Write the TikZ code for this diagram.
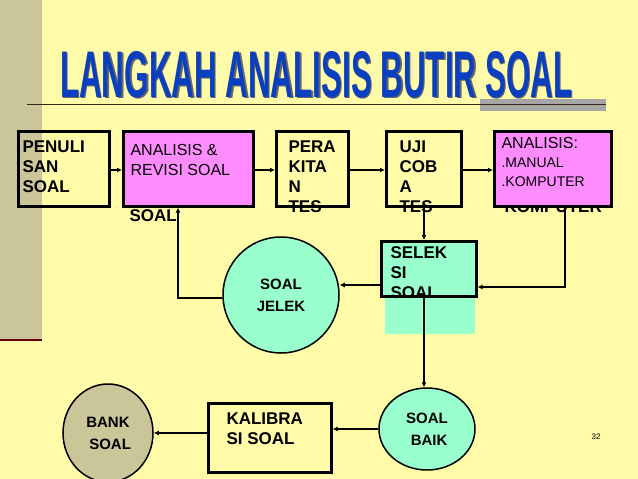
\documentclass[tikz,border=0pt]{standalone}
\usepackage{fontspec}
\setmainfont{Liberation Sans}
\usetikzlibrary{arrows.meta,shapes.geometric}
\definecolor{bg}{HTML}{FFFBA8}
\definecolor{strip}{HTML}{CBC69A}
\definecolor{mag}{HTML}{FF8CFF}
\definecolor{cy}{HTML}{99FFCC}
\definecolor{ttl}{HTML}{0A3FC0}
\begin{document}
\begin{tikzpicture}[x=1pt,y=-1pt,
  txt/.style={font=\fontsize{17}{20}\selectfont\bfseries,align=left},
  boxs/.style={draw,line width=2.6pt,inner sep=0pt,anchor=north west},
  arr/.style={-{Latex[length=5pt,width=5pt]},line width=1.3pt}]
\useasboundingbox (0,0) rectangle (638,479);
\fill[bg] (0,0) rectangle (638,479);
\fill[strip] (0,0) rectangle (42,340);
\draw[line width=1.5pt,color=black!60!red] (0,340) -- (42,340);
\fill[gray!70] (480,99) rectangle (606,111);
\draw[line width=1pt,color=black!70!brown] (27,104) -- (606,104);
\node[anchor=south west,inner sep=0pt,text=black!60,font=\fontsize{66}{66}\selectfont\bfseries] at (61.5,99.5)
  {\scalebox{0.475}[1]{LANGKAH ANALISIS BUTIR SOAL}};
\node[anchor=south west,inner sep=0pt,text=ttl,font=\fontsize{66}{66}\selectfont\bfseries] (title) at (60,98)
  {\scalebox{0.475}[1]{LANGKAH ANALISIS BUTIR SOAL}};
% boxes
\node[boxs,minimum width=91,minimum height=75] (pen) at (17,130) {};
\node[txt,anchor=north west] at (19,137) {PENULI\\SAN\\SOAL};
\node[boxs,fill=mag,minimum width=130,minimum height=75] (ana) at (122,130) {};
\node[txt,font=\fontsize{16}{20}\selectfont,anchor=north west] at (127,141) {ANALISIS \&\\REVISI SOAL};
\node[txt,anchor=north west] (soal1) at (126,206) {SOAL};
\node[boxs,minimum width=72,minimum height=75] (per) at (275,130) {};
\node[txt,anchor=north west] at (285,137) {PERA\\KITA\\N\\TES};
\node[boxs,minimum width=75,minimum height=75] (uji) at (385,130) {};
\node[txt,anchor=north west] at (396,137) {UJI\\COB\\A\\TES};
\node[txt,anchor=north west] at (501,197) {KOMPUTER};
\node[boxs,fill=mag,minimum width=117,minimum height=75] (an2) at (493,130) {};
\node[font=\fontsize{16}{19}\selectfont,align=left,anchor=north west] at (498,134) {ANALISIS:\\{\fontsize{14}{19}\selectfont .MANUAL}\\{\fontsize{14}{19}\selectfont .KOMPUTER}};
% seleksi
\fill[cy] (385,290) rectangle (475,334);
\node[boxs,fill=cy,minimum width=95,minimum height=55] (sel) at (380,240) {};
\node[txt,anchor=north west] at (387,243) {SELEK\\SI\\SOAL};
% circles
\node[draw,line width=1.5pt,fill=cy,circle,minimum size=116,txt,align=center,font=\fontsize{15}{22}\selectfont\bfseries] (jel) at (281,295) {SOAL\\JELEK};
\node[draw,line width=1.5pt,fill=cy,ellipse,minimum width=96,minimum height=82,inner sep=0pt,align=center,font=\fontsize{15}{22}\selectfont\bfseries] (baik) at (427,429) {SOAL\\\ BAIK};
\node[boxs,minimum width=123,minimum height=69] (kal) at (207,402) {};
\node[txt,anchor=north west] at (223,409) {KALIBRA\\SI SOAL};
\node[draw,line width=1.5pt,fill=strip,ellipse,minimum width=90,minimum height=98,inner sep=0pt,align=center,font=\fontsize{15}{22}\selectfont\bfseries] (bank) at (108,433) {BANK\\\ SOAL};
\node[font=\fontsize{8}{8}\selectfont] (pg) at (596,437) {32};
% arrows
\draw[arr] (pen.east|-0,170) -- (ana.west|-0,170);
\draw[arr] (ana.east|-0,170) -- (per.west|-0,170);
\draw[arr] (per.east|-0,170) -- (uji.west|-0,170);
\draw[arr] (uji.east|-0,170) -- (an2.west|-0,170);
\draw[arr] (uji.south-|424,0) -- (sel.north-|424,0);
\draw[arr] (an2.south-|565,0) -- (565,287) -- (sel.east|-0,287);
\draw[arr] (sel.west|-0,285) -- (jel.east|-0,285);
\draw[arr] (jel.west|-0,298) -- (178,298) -- (ana.south-|178,0);
\draw[arr] (sel.south-|424,0) -- (baik.north-|424,0);
\draw[arr] (baik.west) -- (kal.east|-baik.west);
\draw[arr] (kal.west|-0,433) -- (bank.east);
\end{tikzpicture}
\end{document}
